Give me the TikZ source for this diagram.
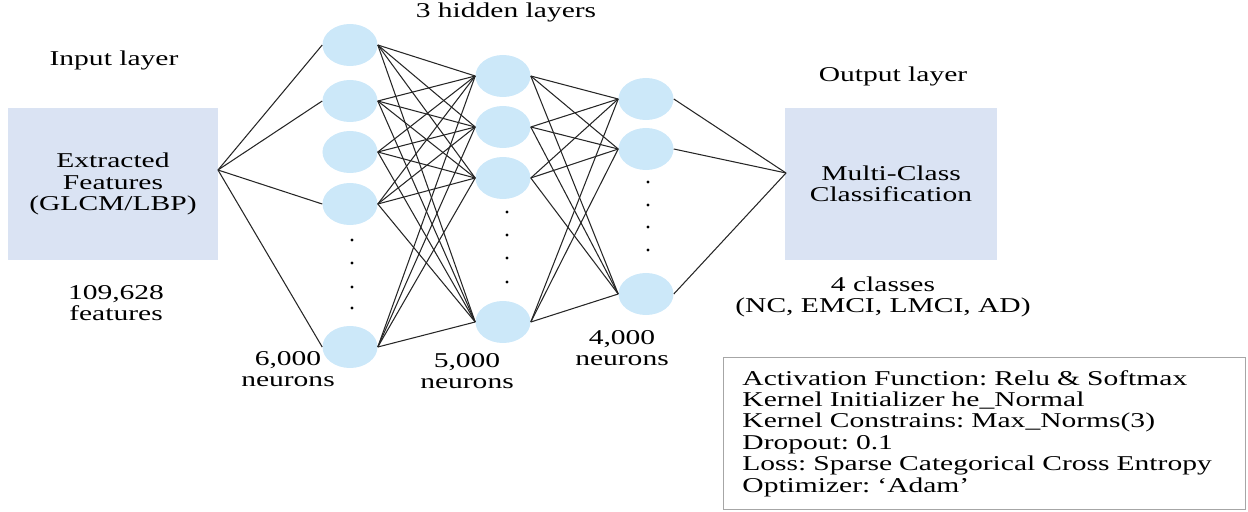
\documentclass[tikz,border=0pt]{standalone}
\usepackage{fontspec}
\setmainfont{Liberation Serif}[FakeStretch=1.4]
\usetikzlibrary{shapes.geometric}
\usepackage{xcolor}
\definecolor{neuronblue}{HTML}{CCE8F9}
\definecolor{boxblue}{HTML}{DAE3F3}
\definecolor{framegray}{HTML}{A6A6A6}
\frenchspacing
\tikzset{
  neuron/.style={ellipse, fill=neuronblue, minimum width=1.375cm, minimum height=1.05cm, inner sep=0pt},
  layerbox/.style={fill=boxblue, minimum height=3.8cm, align=center, inner sep=0pt},
  paramsbox/.style={draw=framegray, line width=0.6pt, align=left, text width=12.1cm, minimum height=3.8cm, inner xsep=0.475cm},
  link/.style={draw=black!85, line width=0.75pt}
}

\begin{document}
\begin{tikzpicture}[x=0.025cm, y=-0.025cm, font=\fontsize{15}{15.2}\selectfont]
  \useasboundingbox (0,0) rectangle (1248,512);

  % input and output blocks
  \node[layerbox, minimum width=5.25cm] (inp) at (113,184) {Extracted\\Features\\(GLCM/LBP)};
  \node[layerbox, minimum width=5.3cm] (outp) at (891,184) {Multi-Class\\Classification};
  \coordinate (inp-out) at (218,170);
  \coordinate (outp-in) at (786,173);

  % titles and counts
  \node[anchor=base] (inp-title) at (114,66) {Input layer};
  \node[anchor=base] (hid-title) at (506,18) {3 hidden layers};
  \node[anchor=base] (out-title) at (893,81) {Output layer};
  \node[align=center] (inp-count) at (116,303) {109,628\\features};
  \node[align=center] (h1-count) at (288,369) {6,000\\neurons};
  \node[align=center] (h2-count) at (467,371) {5,000\\neurons};
  \node[align=center] (h3-count) at (622,348) {4,000\\neurons};
  \node[align=center] (out-count) at (883,297) {4 classes\\(NC, EMCI, LMCI, AD)};

  % hidden layers
  \foreach \i/\y in {1/45,2/101,3/152,4/204,5/347}
    \node[neuron] (h1-\i) at (350,\y) {};
  \foreach \i/\y in {1/76,2/127,3/178,4/322}
    \node[neuron] (h2-\i) at (503,\y) {};
  \foreach \i/\y in {1/99,2/149,3/294}
    \node[neuron] (h3-\i) at (646,\y) {};

  % skipped neurons
  \foreach \y in {240,263,287,308} \fill (352,\y) circle (1.1pt);
  \foreach \y in {212,235,258,282} \fill (507,\y) circle (1.1pt);
  \foreach \y in {182,205,227,250} \fill (648,\y) circle (1.1pt);

  % weights
  \foreach \i in {1,2,4,5}
    \draw[link] (inp-out) -- (h1-\i.west);
  \foreach \i in {1,...,5}
    \foreach \j in {1,...,4}
      \draw[link] (h1-\i.east) -- (h2-\j.west);
  \foreach \i in {1,...,4}
    \foreach \j in {1,2,3}
      \draw[link] (h2-\i.east) -- (h3-\j.west);
  \foreach \i in {1,2,3}
    \draw[link] (h3-\i.east) -- (outp-in);

  % training settings
  \node[paramsbox, anchor=north west] (params) at (723,357) {Activation Function: Relu \& Softmax\\Kernel Initializer he\_Normal\\Kernel Constrains: Max\_Norms(3)\\Dropout: 0.1\\Loss: Sparse Categorical Cross Entropy\\Optimizer: `Adam'};
\end{tikzpicture}
\end{document}
